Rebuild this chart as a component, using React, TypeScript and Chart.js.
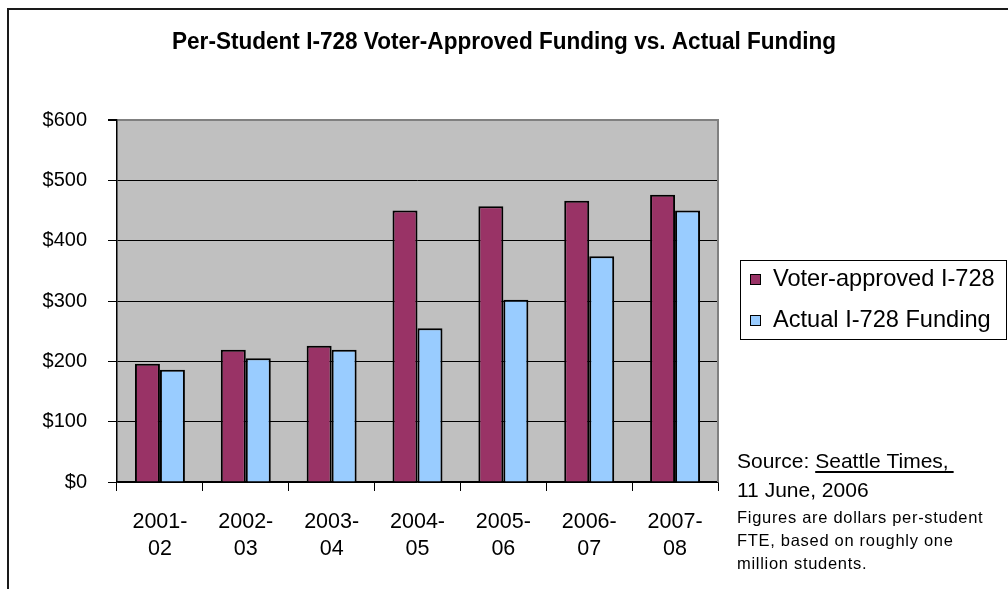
import React, { useEffect, useRef } from "react";
import { Chart, registerables } from "chart.js";

Chart.register(...registerables);

const categories: string[][] = [
  ["2001-", "02"],
  ["2002-", "03"],
  ["2003-", "04"],
  ["2004-", "05"],
  ["2005-", "06"],
  ["2006-", "07"],
  ["2007-", "08"],
];
const voterApproved = [196, 219, 226, 450, 457, 466, 476];
const actualFunding = [186, 205, 219, 255, 302, 374, 450];
const seriesNames = ["Voter-approved I-728", "Actual I-728 Funding"];
const seriesColors = ["#993366", "#99CCFF"];
const yMax = 600;
const yStep = 100;
const titleText = "Per-Student I-728 Voter-Approved Funding vs. Actual Funding";
const sourcePrefix = "Source: ";
const sourceName = "Seattle Times,";
const sourceDate = "11 June, 2006";
const noteLines = [
  "Figures are dollars per-student",
  "FTE, based on roughly one",
  "million students.",
];

const FONT = "'Liberation Sans', Arial, sans-serif";

const decorPlugin = {
  id: "decor",
  beforeDraw(chart: any) {
    const { ctx, chartArea } = chart;
    ctx.save();
    ctx.fillStyle = "#ffffff";
    ctx.fillRect(0, 0, chart.width, chart.height);
    ctx.fillStyle = "#C0C0C0";
    ctx.fillRect(chartArea.left, chartArea.top, chartArea.right - chartArea.left, chartArea.bottom - chartArea.top);
    ctx.restore();
  },
  afterDatasetsDraw(chart: any) {
    const { ctx, chartArea } = chart;
    ctx.save();
    ctx.strokeStyle = "#808080";
    ctx.lineWidth = 2;
    ctx.beginPath();
    ctx.moveTo(chartArea.right, chartArea.top - 1);
    ctx.lineTo(chartArea.right, chartArea.bottom);
    ctx.stroke();
    ctx.restore();
  },
  afterDraw(chart: any) {
    const { ctx } = chart;
    ctx.save();
    // outer frame
    ctx.strokeStyle = "#1a1a1a";
    ctx.lineWidth = 2;
    ctx.strokeRect(8, 9, 1200, 800);

    // title
    ctx.fillStyle = "#000";
    ctx.font = `bold 23px ${FONT}`;
    ctx.textAlign = "center";
    ctx.textBaseline = "middle";
    ctx.fillText(titleText, 504, 43, 664);

    // legend
    ctx.lineWidth = 1;
    ctx.strokeStyle = "#000";
    ctx.strokeRect(740.5, 260.5, 266, 79);
    ctx.textAlign = "left";
    ctx.font = `23.6px ${FONT}`;
    const rows = [279, 320];
    chart.data.datasets.forEach((ds: any, i: number) => {
      ctx.fillStyle = ds.backgroundColor;
      ctx.fillRect(750, rows[i] - 5, 11, 11);
      ctx.strokeStyle = "#000";
      ctx.strokeRect(750.5, rows[i] - 4.5, 10, 10);
      ctx.fillStyle = "#000";
      ctx.fillText(ds.label, 773, rows[i]);
    });

    // source
    ctx.font = `21px ${FONT}`;
    ctx.fillText(sourcePrefix, 737, 462);
    const px = 737 + ctx.measureText(sourcePrefix).width;
    ctx.fillText(sourceName, px, 462);
    const w = ctx.measureText(sourceName).width;
    ctx.fillRect(px, 471, w + 5, 2);
    ctx.fillText(sourceDate, 737, 491);

    ctx.font = `16.5px ${FONT}`;
    try {
      (ctx as any).letterSpacing = "0.7px";
    } catch (e) {}
    const noteY = [518, 541, 564];
    noteLines.forEach((t, i) => ctx.fillText(t, 737, noteY[i]));
    ctx.restore();
  },
};

export default function App() {
  const ref = useRef<HTMLCanvasElement | null>(null);
  useEffect(() => {
    if (!ref.current) return;
    const chart = new Chart(ref.current, {
      type: "bar",
      data: {
        labels: categories,
        datasets: [
          {
            label: seriesNames[0],
            data: voterApproved,
            backgroundColor: seriesColors[0],
            borderColor: "#000",
            borderWidth: 2,
            barPercentage: 1,
            categoryPercentage: 0.582,
          },
          {
            label: seriesNames[1],
            data: actualFunding,
            backgroundColor: seriesColors[1],
            borderColor: "#000",
            borderWidth: 2,
            barPercentage: 1,
            categoryPercentage: 0.582,
          },
        ],
      },
      options: {
        responsive: false,
        animation: false,
        devicePixelRatio: 1,
        layout: { padding: { top: 120, right: 290, left: 0, bottom: 0 } },
        plugins: {
          legend: { display: false },
          title: { display: false },
          tooltip: { enabled: false },
        },
        scales: {
          y: {
            min: 0,
            max: yMax,
            ticks: {
              stepSize: yStep,
              callback: (v: any) => "$" + v,
              color: "#000",
              font: { family: FONT, size: 20 },
              padding: 21,
            },
            grid: {
              color: (c: any) => (c.tick && c.tick.value === yMax ? "#808080" : "#000"),
              lineWidth: (c: any) => (c.tick && c.tick.value === yMax ? 2 : 1),
              tickColor: "#000",
              tickLength: 9,
            },
            border: { color: "#000", width: 1.5 },
            afterFit: (s: any) => {
              s.width = 117;
            },
          },
          x: {
            offset: true,
            grid: {
              offset: true,
              drawOnChartArea: false,
              tickColor: "#000",
              tickLength: 9,
            },
            ticks: {
              color: "#000",
              font: { family: FONT, size: 21.5, lineHeight: 1.27 },
              padding: 17,
              maxRotation: 0,
              autoSkip: false,
            },
            border: { color: "#000", width: 1.5 },
            afterFit: (s: any) => {
              s.height = 107;
            },
          },
        },
      },
      plugins: [decorPlugin],
    });
    return () => chart.destroy();
  }, []);
  return (
    <div style={{ position: "absolute", left: 0, top: 0, width: 1008, height: 589 }}>
      <canvas ref={ref} width={1008} height={589} />
    </div>
  );
}
